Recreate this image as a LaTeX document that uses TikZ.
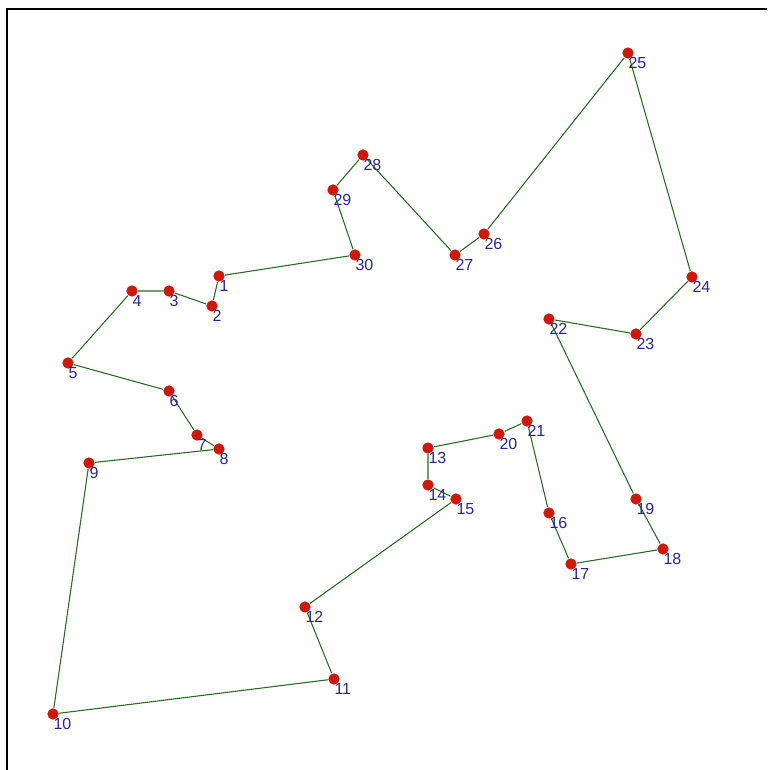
\documentclass[tikz,border=0pt]{standalone}
\usepackage{fontspec}
\setmainfont{Liberation Sans}
\usetikzlibrary{positioning}
\definecolor{cityred}{RGB}{205,25,10}
\definecolor{tourgreen}{RGB}{40,105,35}
\definecolor{numblue}{RGB}{40,40,140}
\tikzset{every picture/.style={line width=0.75pt}}
\tikzset{
city/.style={circle, fill=cityred, draw=none, inner sep=0pt, minimum size=8.5pt},
num/.style={anchor=north west, inner sep=0pt, text=numblue, font=\fontsize{12}{14}\selectfont},
tour/.style={draw=tourgreen, line width=0.8pt}}

\begin{document}
\begin{tikzpicture}[x=0.75pt,y=0.75pt,yscale=-1,xscale=1]
\useasboundingbox (0,0) rectangle (767,770);

%Frame: top and left edges only
\draw [line width=1.5pt] (7,770) -- (7,9) -- (767,9) ;

%Cities
\node [city] (c1) at (219,276) {};
\node [city] (c2) at (212,306) {};
\node [city] (c3) at (169,291) {};
\node [city] (c4) at (132,291) {};
\node [city] (c5) at (68,363) {};
\node [city] (c6) at (169,391) {};
\node [city] (c7) at (197,435) {};
\node [city] (c8) at (219,449) {};
\node [city] (c9) at (89,463) {};
\node [city] (c10) at (53,714) {};
\node [city] (c11) at (334,679) {};
\node [city] (c12) at (305,607) {};
\node [city] (c13) at (428,448) {};
\node [city] (c14) at (428,485) {};
\node [city] (c15) at (456,499) {};
\node [city] (c16) at (549,513) {};
\node [city] (c17) at (571,564) {};
\node [city] (c18) at (663,549) {};
\node [city] (c19) at (636,499) {};
\node [city] (c20) at (499,434) {};
\node [city] (c21) at (527,421) {};
\node [city] (c22) at (549,319) {};
\node [city] (c23) at (636,334) {};
\node [city] (c24) at (692,277) {};
\node [city] (c25) at (628,53) {};
\node [city] (c26) at (484,234) {};
\node [city] (c27) at (455,255) {};
\node [city] (c28) at (363,155) {};
\node [city] (c29) at (333,190) {};
\node [city] (c30) at (355,255) {};

%Tour
\draw [tour] (c1) -- (c2) -- (c3) -- (c4) -- (c5) -- (c6) -- (c7) -- (c8) -- (c9) -- (c10)
  -- (c11) -- (c12) -- (c15) -- (c14) -- (c13) -- (c20) -- (c21) -- (c16) -- (c17) -- (c18)
  -- (c19) -- (c22) -- (c23) -- (c24) -- (c25) -- (c26) -- (c27) -- (c28) -- (c29) -- (c30) -- (c1) ;

%Numbers
\node [num] (n1) at ([shift={(0,4)}]c1.center) {1};
\node [num] (n2) at ([shift={(0,4)}]c2.center) {2};
\node [num] (n3) at ([shift={(0,4)}]c3.center) {3};
\node [num] (n4) at ([shift={(0,4)}]c4.center) {4};
\node [num] (n5) at ([shift={(0,4)}]c5.center) {5};
\node [num] (n6) at ([shift={(0,4)}]c6.center) {6};
\node [num] (n7) at ([shift={(0,4)}]c7.center) {7};
\node [num] (n8) at ([shift={(0,4)}]c8.center) {8};
\node [num] (n9) at ([shift={(0,4)}]c9.center) {9};
\node [num] (n10) at ([shift={(0,4)}]c10.center) {10};
\node [num] (n11) at ([shift={(0,4)}]c11.center) {11};
\node [num] (n12) at ([shift={(0,4)}]c12.center) {12};
\node [num] (n13) at ([shift={(0,4)}]c13.center) {13};
\node [num] (n14) at ([shift={(0,4)}]c14.center) {14};
\node [num] (n15) at ([shift={(0,4)}]c15.center) {15};
\node [num] (n16) at ([shift={(0,4)}]c16.center) {16};
\node [num] (n17) at ([shift={(0,4)}]c17.center) {17};
\node [num] (n18) at ([shift={(0,4)}]c18.center) {18};
\node [num] (n19) at ([shift={(0,4)}]c19.center) {19};
\node [num] (n20) at ([shift={(0,4)}]c20.center) {20};
\node [num] (n21) at ([shift={(0,4)}]c21.center) {21};
\node [num] (n22) at ([shift={(0,4)}]c22.center) {22};
\node [num] (n23) at ([shift={(0,4)}]c23.center) {23};
\node [num] (n24) at ([shift={(0,4)}]c24.center) {24};
\node [num] (n25) at ([shift={(0,4)}]c25.center) {25};
\node [num] (n26) at ([shift={(0,4)}]c26.center) {26};
\node [num] (n27) at ([shift={(0,4)}]c27.center) {27};
\node [num] (n28) at ([shift={(0,4)}]c28.center) {28};
\node [num] (n29) at ([shift={(0,4)}]c29.center) {29};
\node [num] (n30) at ([shift={(0,4)}]c30.center) {30};

\end{tikzpicture}
\end{document}
